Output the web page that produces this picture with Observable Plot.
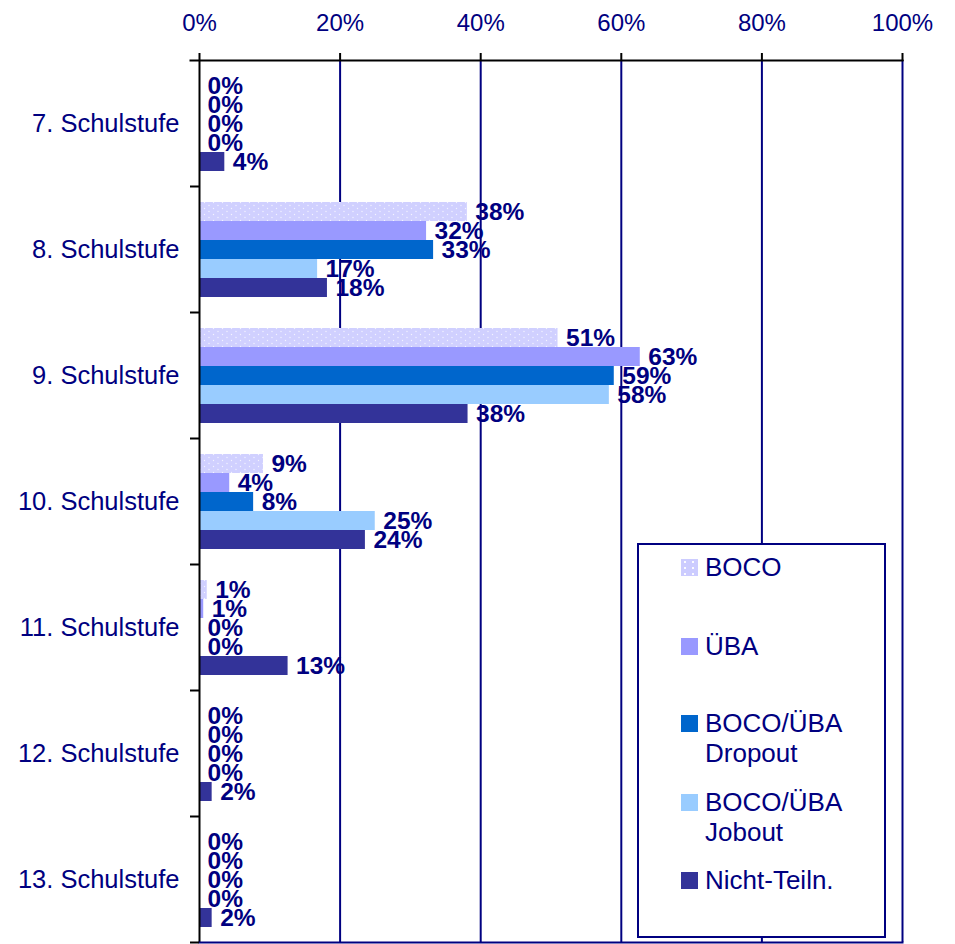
<!DOCTYPE html>
<html>
<head>
<meta charset="utf-8">
<script src="https://cdn.jsdelivr.net/npm/d3@7"></script>
<script src="https://cdn.jsdelivr.net/npm/@observablehq/plot@0.6"></script>
<style>
  html, body { margin: 0; padding: 0; background: #fff; }
  #wrap { position: relative; width: 955px; height: 944px; font-family: "Liberation Sans", Arial, sans-serif; }
  #legend { position: absolute; left: 637px; top: 543px; width: 245px; height: 391px; border: 2px solid #000080; background: #fff; }
  .item { position: absolute; left: 42px; display: flex; align-items: flex-start; }
  .sw { width: 17px; height: 17px; margin-top: 7px; margin-right: 7px; flex: none; }
  .lab { font-size: 26px; line-height: 30px; color: #000080; width: 175px; }
</style>
</head>
<body>
<div id="wrap"></div>
<script>
const categories = ["7. Schulstufe", "8. Schulstufe", "9. Schulstufe", "10. Schulstufe", "11. Schulstufe", "12. Schulstufe", "13. Schulstufe"];
const series = ["BOCO", "ÜBA", "BOCO/ÜBA Dropout", "BOCO/ÜBA Jobout", "Nicht-Teiln."];
const boco    = [0, 38.1, 51.0, 9.1, 1.1, 0, 0];
const uba     = [0, 32.3, 62.7, 4.3, 0.6, 0, 0];
const dropout = [0, 33.3, 59.0, 7.7, 0, 0, 0];
const jobout  = [0, 16.8, 58.3, 25.0, 0, 0, 0];
const nicht   = [3.6, 18.2, 38.2, 23.6, 12.6, 1.8, 1.8];
const xTicks = [0, 20, 40, 60, 80, 100];
const gridTicks = [20, 40, 60, 80, 100];
const colors = ["url(#bocoDots)", "#9999FF", "#0066CC", "#99CCFF", "#333399"];
const swatchColors = ["#CCCCFF", "#9999FF", "#0066CC", "#99CCFF", "#333399"];

const valuesBySeries = [boco, uba, dropout, jobout, nicht];
const rows = [];
series.forEach((s, si) => categories.forEach((c, ci) => rows.push({cat: c, series: s, value: valuesBySeries[si][ci]})));

const W = 955, H = 944;
const mTop = 60, mBottom = 2, mLeft = 199, mRight = 53;
const facetBand = (H - mTop - mBottom) / categories.length;
const navy = "#000080";

const chart = Plot.plot({
  width: W,
  height: H,
  marginTop: mTop,
  marginBottom: mBottom,
  marginLeft: mLeft,
  marginRight: mRight,
  style: {fontFamily: "'Liberation Sans', Arial, sans-serif", fontSize: "24px", background: "white", overflow: "visible"},
  x: {domain: [0, 100]},
  y: {domain: series, paddingInner: 0, paddingOuter: 0.714, axis: null},
  fy: {domain: categories, padding: 0},
  color: {domain: series, range: colors},
  marks: [
    Plot.ruleX(gridTicks, {stroke: navy, strokeWidth: 2}),
    Plot.barX(rows, {x: "value", y: "series", fy: "cat", fill: "series"}),
    Plot.text(rows, {x: "value", y: "series", fy: "cat", text: d => Math.round(d.value) + "%", dx: 8, textAnchor: "start", fontWeight: "bold", fontSize: 24.5, fill: navy}),
    Plot.ruleX([0], {stroke: "black", strokeWidth: 2}),
    Plot.frame({anchor: "top", facet: "super", stroke: "black", strokeWidth: 2, insetLeft: -9}),
    Plot.frame({anchor: "bottom", facet: "super", stroke: navy, strokeWidth: 2}),
    Plot.axisX({anchor: "top", ticks: xTicks, tickFormat: d => d + "%", tickSize: 8, tickPadding: 22, stroke: "black", strokeWidth: 2, fill: navy, label: null, fontSize: 24}),
    Plot.axisFy({anchor: "left", tickSize: 0, tickPadding: 20, label: null, fill: navy, fontSize: 25.5}),
    Plot.axisFy({anchor: "left", tickSize: 9, tickFormat: () => "", label: null, stroke: "black", strokeWidth: 2, dy: facetBand / 2})
  ]
});

// BOCO dotted fill pattern
const svg = d3.select(chart.tagName === "svg" ? chart : chart.querySelector("svg"));
const pat = svg.insert("defs", ":first-child").append("pattern")
  .attr("id", "bocoDots").attr("patternUnits", "userSpaceOnUse").attr("width", 9).attr("height", 6);
pat.append("rect").attr("width", 9).attr("height", 6).attr("fill", "#D0D0FF");
pat.append("circle").attr("cx", 2).attr("cy", 1.5).attr("r", 0.7).attr("fill", "white").attr("opacity", 0.75);
pat.append("circle").attr("cx", 6.5).attr("cy", 4.5).attr("r", 0.7).attr("fill", "white").attr("opacity", 0.75);

const wrap = document.getElementById("wrap");
wrap.appendChild(chart);

// Legend
const legend = document.createElement("div");
legend.id = "legend";
const itemTops = [7, 86, 163, 242, 320];
series.forEach((s, i) => {
  const it = document.createElement("div");
  it.className = "item";
  it.style.top = itemTops[i] + "px";
  const sw = document.createElement("div");
  sw.className = "sw";
  sw.style.background = swatchColors[i];
  if (i === 0) sw.style.backgroundImage = "radial-gradient(circle, rgba(255,255,255,0.9) 0.8px, transparent 1.2px)", sw.style.backgroundSize = "8px 6px";
  const lab = document.createElement("div");
  lab.className = "lab";
  lab.textContent = s;
  it.appendChild(sw); it.appendChild(lab);
  legend.appendChild(it);
});
wrap.appendChild(legend);
</script>
</body>
</html>
